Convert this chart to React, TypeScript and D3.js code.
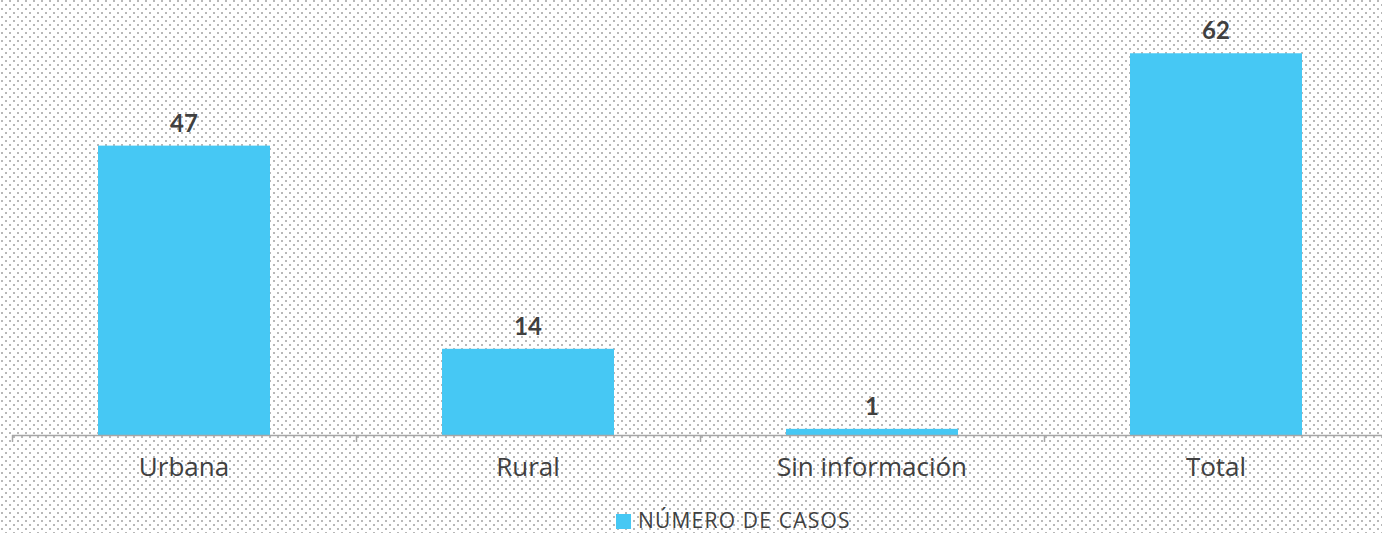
import React from "react";
import * as d3 from "d3";

const categories = ["Urbana", "Rural", "Sin información", "Total"];
const values = [47, 14, 1, 62];
const seriesName = "NÚMERO DE CASOS";
const yDomain = [0, 70];

const W = 1382;
const H = 533;

export default function App() {
  const x = d3.scaleBand<string>().domain(categories).range([12, 1388]).paddingInner(0.5).paddingOuter(0.25);
  const xOuter = d3.scaleBand<string>().domain(categories).range([12, 1388]);
  const y = d3.scaleLinear().domain(yDomain).range([435, 4]);
  const tickXs = categories.map((c) => xOuter(c)!).concat([1388]);
  const textColor = "#404040";
  return (
    <svg width={W} height={H} style={{ position: "absolute", left: 0, top: 0, display: "block" }}>
      <defs>
        <pattern id="dots" width={8} height={8} patternUnits="userSpaceOnUse">
          <rect x={0} y={0} width={8} height={8} fill="#ffffff" />
          <rect x={1} y={0} width={2} height={2} fill="#b8b8b8" />
          <rect x={5} y={4} width={2} height={2} fill="#b8b8b8" />
        </pattern>
      </defs>
      <rect x={0} y={0} width={W} height={H} fill="url(#dots)" />
      {categories.map((c, i) => (
        <g key={c}>
          <rect x={x(c)!} y={y(values[i])} width={x.bandwidth()} height={y(0) - y(values[i])} fill="#46c8f4" />
          <text
            x={x(c)! + x.bandwidth() / 2}
            y={y(values[i]) - 14}
            textAnchor="middle"
            fontFamily="Lato, 'Open Sans', sans-serif"
            fontWeight="bold"
            fontSize={24}
            fill={textColor}
          >
            {values[i]}
          </text>
          <text
            x={xOuter(c)! + xOuter.bandwidth() / 2}
            y={476}
            textAnchor="middle"
            fontFamily="'Open Sans', sans-serif"
            fontSize={26}
            fill={textColor}
          >
            {c}
          </text>
        </g>
      ))}
      <line x1={12} x2={W} y1={435.5} y2={435.5} stroke="#a6a6a6" strokeWidth={1.5} />
      {tickXs.map((t, i) => (
        <line key={i} x1={t + 0.5} x2={t + 0.5} y1={435} y2={442} stroke="#a6a6a6" strokeWidth={1.5} />
      ))}
      <rect x={616} y={514} width={15} height={15} fill="#46c8f4" />
      <text x={638} y={528} fontFamily="'Open Sans', sans-serif" fontSize={21} letterSpacing={1.2} fill={textColor}>
        {seriesName}
      </text>
    </svg>
  );
}
